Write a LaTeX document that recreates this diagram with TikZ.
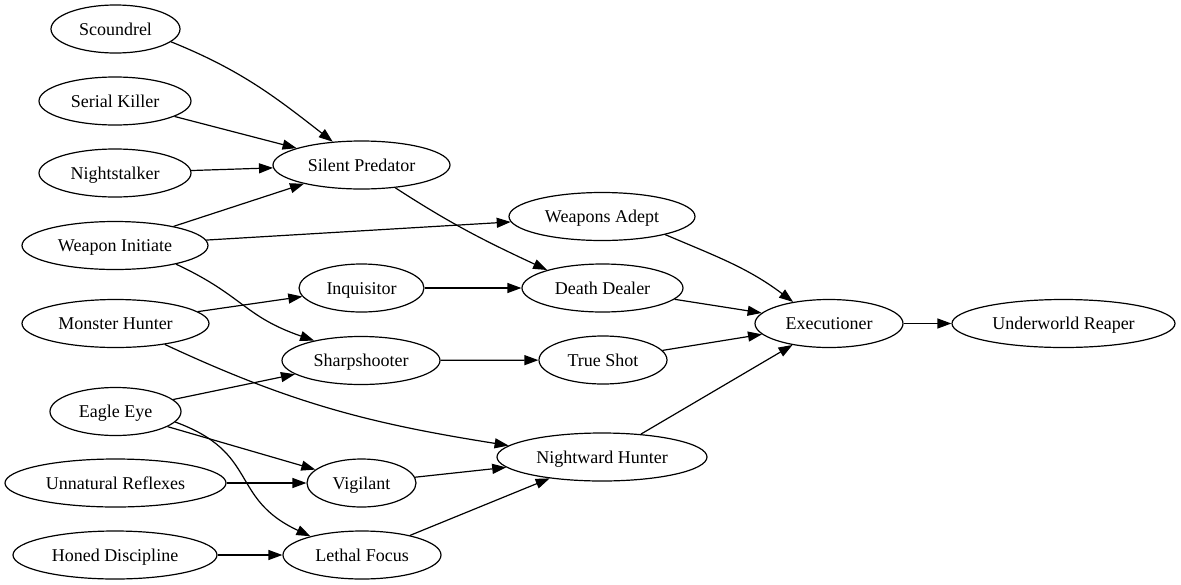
\documentclass[tikz,border=0pt]{standalone}
\usepackage{fontspec}
\setmainfont{Liberation Serif}
\usetikzlibrary{arrows.meta,shapes.geometric}

\begin{document}
\begin{tikzpicture}[x=1pt,y=1pt,
    skill/.style={ellipse,draw,line width=1.2pt,inner sep=0pt,minimum height=48pt,text height=16pt,text depth=4pt,font=\fontsize{18}{20}\selectfont},
    >={Triangle[length=14pt,width=10pt]}]
    \useasboundingbox (0,0) rectangle (1181,-584);
    % first column
    \node[skill,minimum width=129pt] at (115.5,-29)(sco){Scoundrel};
    \node[skill,minimum width=152pt] at (115,-101)(ser){Serial Killer};
    \node[skill,minimum width=152pt] at (115,-173)(nig){Nightstalker};
    \node[skill,minimum width=186pt] at (115,-245.5)(wi){Weapon Initiate};
    \node[skill,minimum width=187pt] at (115.5,-323.5)(mh){Monster Hunter};
    \node[skill,minimum width=131pt] at (115.5,-411.5)(ee){Eagle Eye};
    \node[skill,minimum width=221pt] at (115.5,-483)(ur){Unnatural Reflexes};
    \node[skill,minimum width=204pt] at (115,-555)(hd){Honed Discipline};
    % second column
    \node[skill,minimum width=177pt] at (361.5,-165)(sp){Silent Predator};
    \node[skill,minimum width=125pt] at (361.5,-288)(inq){Inquisitor};
    \node[skill,minimum width=158pt] at (361,-360.5)(ss){Sharpshooter};
    \node[skill,minimum width=109pt] at (361.5,-483)(vig){Vigilant};
    \node[skill,minimum width=158pt] at (362,-555)(lf){Lethal Focus};
    % third column
    \node[skill,minimum width=186pt] at (602,-216.5)(wa){Weapons Adept};
    \node[skill,minimum width=161pt] at (602.5,-288)(dd){Death Dealer};
    \node[skill,minimum width=128pt] at (603,-360)(ts){True Shot};
    \node[skill,minimum width=210pt] at (602,-457)(nh){Nightward Hunter};
    % last columns
    \node[skill,minimum width=148pt] at (829,-323.5)(ex){Executioner};
    \node[skill,minimum width=223pt] at (1063.5,-323.5)(uw){Underworld Reaper};

    \path[->,line width=1.2pt]
        (sco.-13)edge[out=-22,in=142](sp.141)
        (ser)edge(sp)
        (nig)edge(sp)
        (wi)edge(sp)
        (wi)edge(wa)
        (wi.-17)edge[out=-25,in=161,looseness=1.2](ss.157)
        (sp.-34)edge[out=-33,in=155](dd.162)
        (mh)edge(inq)
        (mh.-23)edge[out=-25,in=171](nh.173)
        (inq)edge(dd)
        (ss)edge(ts)
        (ee)edge(ss)
        (ee)edge(vig)
        (ee.-10)edge[out=-20,in=155,looseness=1.3](lf.160)
        (ur)edge(vig)
        (hd)edge(lf)
        (vig)edge(nh)
        (lf)edge(nh)
        (wa.-16)edge[out=-23,in=143](ex.149)
        (dd)edge(ex)
        (ts)edge(ex)
        (nh)edge(ex)
        (ex)edge(uw)
        ;
\end{tikzpicture}
\end{document}
